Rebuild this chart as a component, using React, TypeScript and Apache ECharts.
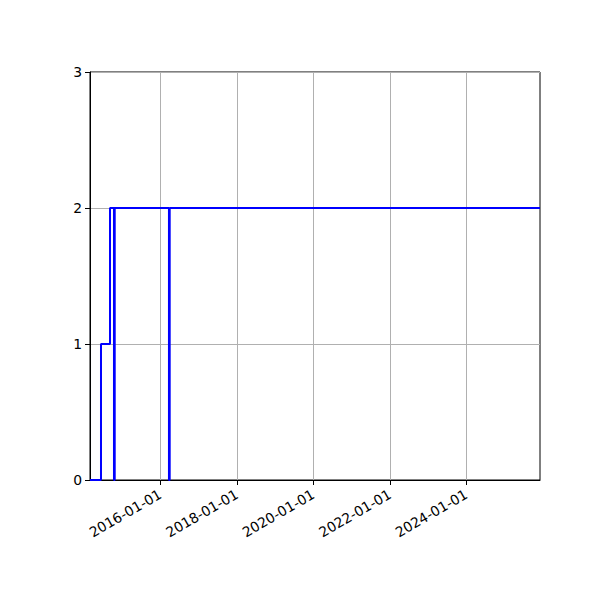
import { useEffect, useRef } from 'react';
import * as echarts from 'echarts';

// step events: value holds until the next date
const stepDates = [
  '2014-03-01',
  '2014-06-14',
  '2014-09-08',
  '2014-10-16',
  '2014-10-23',
  '2016-03-24',
  '2016-03-31',
  '2025-12-05',
];
const stepValues = [0, 1, 2, 0, 2, 0, 2, 2];

const xTicks = ['2016-01-01', '2018-01-01', '2020-01-01', '2022-01-01', '2024-01-01'];
const xRange = ['2014-03-01', '2025-12-05'];
const yTicks = [0, 1, 2, 3];

const pad = (n: number) => (n < 10 ? '0' + n : '' + n);
const toMs = (s: string) => {
  const [y, m, d] = s.split('-').map(Number);
  return Date.UTC(y, m - 1, d);
};
const fmt = (v: number) => {
  const d = new Date(v);
  return `${d.getUTCFullYear()}-${pad(d.getUTCMonth() + 1)}-${pad(d.getUTCDate())}`;
};

const App: React.FC = () => {
  const chartRef = useRef<HTMLDivElement>(null);

  useEffect(() => {
    if (!chartRef.current) return;
    const chart = echarts.init(chartRef.current, undefined, { renderer: 'svg' });

    const font = { fontFamily: 'DejaVu Sans', fontSize: 13.9, color: '#000' };
    const tickMs = xTicks.map(toMs);

    const option: echarts.EChartsOption = {
      animation: false,
      backgroundColor: '#fff',
      grid: {
        left: 90,
        right: 60,
        top: 72,
        bottom: 120,
        show: true,
        borderColor: '#000',
        borderWidth: 1,
        backgroundColor: 'transparent',
      },
      xAxis: {
        type: 'value',
        min: toMs(xRange[0]),
        max: toMs(xRange[1]),
        axisLine: { show: true, onZero: false, lineStyle: { color: '#000', width: 1 } },
        axisTick: {
          show: true,
          length: 5,
          lineStyle: { color: '#000', width: 1 },
          customValues: tickMs,
        } as any,
        axisLabel: {
          ...font,
          rotate: 30,
          margin: 13,
          customValues: tickMs,
          formatter: (v: number) => fmt(v),
        } as any,
        splitLine: { show: true, lineStyle: { color: '#b0b0b0', width: 1 } },
      },
      yAxis: {
        type: 'value',
        min: yTicks[0],
        max: yTicks[yTicks.length - 1],
        interval: 1,
        axisLine: { show: true, lineStyle: { color: '#000', width: 1 } },
        axisTick: { show: true, length: 5, lineStyle: { color: '#000', width: 1 } },
        axisLabel: { ...font, margin: 8 },
        splitLine: { show: true, lineStyle: { color: '#b0b0b0', width: 1 } },
      },
      series: [
        {
          type: 'line',
          step: 'end',
          symbol: 'none',
          data: stepDates.map((d, i) => [toMs(d), stepValues[i]]),
          lineStyle: { color: '#0000ff', width: 2 },
          clip: false,
        },
      ],
    };

    chart.setOption(option);
    return () => {
      chart.dispose();
    };
  }, []);

  return (
    <div
      ref={chartRef}
      style={{ position: 'absolute', left: 0, top: 0, width: '600px', height: '600px' }}
    />
  );
};

export default App;
